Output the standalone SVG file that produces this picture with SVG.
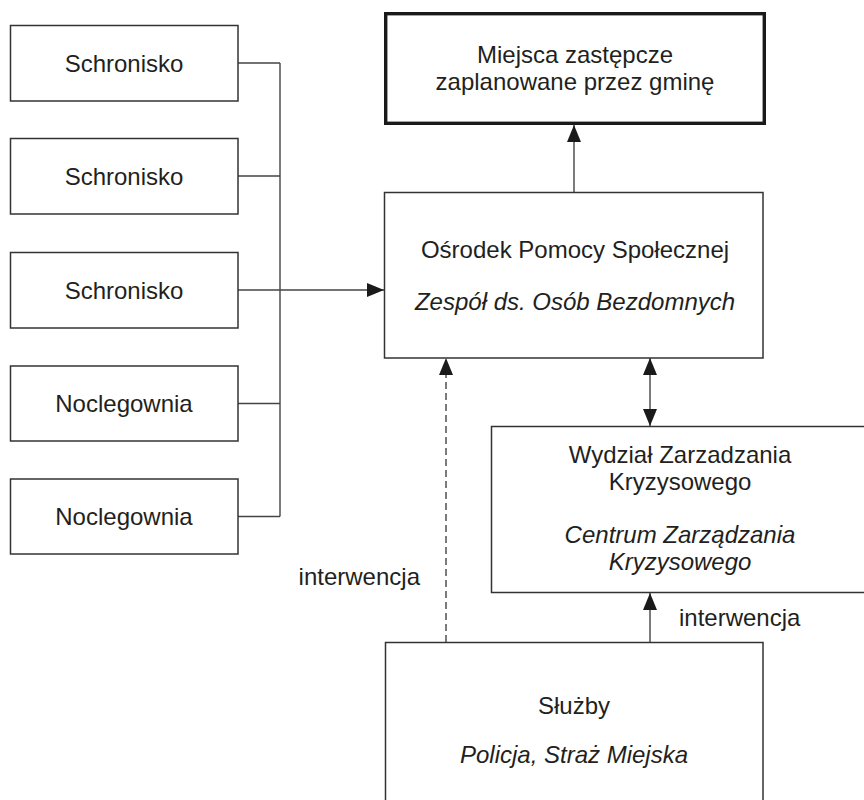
<svg xmlns="http://www.w3.org/2000/svg" width="864" height="800" viewBox="0 0 864 800">
<style>
.box{fill:#fff;stroke:#333;stroke-width:1.5}
.thick{fill:#fff;stroke:#1a1a1a;stroke-width:3.4}
text{font-family:"Liberation Sans",Arial,sans-serif;font-size:24px;fill:#231f20;text-anchor:middle}
.it{font-style:italic}
.ln{fill:none;stroke:#444;stroke-width:1.4}
.dash{stroke-dasharray:7 4}
</style>
<defs>
<marker id="ah" viewBox="0 0 17 14" refX="17" refY="7" markerWidth="17" markerHeight="14" markerUnits="userSpaceOnUse" orient="auto-start-reverse">
<path d="M0,0 L17,7 L0,14 Z" fill="#1a1a1a"/>
</marker>
</defs>
<rect width="864" height="800" fill="#fff"/>
<g id="connectors">
<path class="ln" d="M238,63 H280 M238,176 H280 M238,403.5 H280 M238,516.5 H280 M280,63 V516.5"/>
<path class="ln" d="M238,290 H384" marker-end="url(#ah)"/>
<path class="ln" d="M574,192 V125" marker-end="url(#ah)"/>
<path class="ln" d="M650,358 V426" marker-start="url(#ah)" marker-end="url(#ah)"/>
<path class="ln" d="M650,642 V593" marker-end="url(#ah)"/>
<path class="ln dash" d="M446,642 V358" marker-end="url(#ah)"/>
<text x="420" y="585" style="text-anchor:end">interwencja</text>
<text x="679" y="626" style="text-anchor:start">interwencja</text>
</g>
<g id="n1"><rect class="box" x="10.5" y="25.5" width="227.5" height="75.5"/><text x="124" y="71.5">Schronisko</text></g>
<g id="n2"><rect class="box" x="10.5" y="138.5" width="227.5" height="75.5"/><text x="124" y="184.5">Schronisko</text></g>
<g id="n3"><rect class="box" x="10.5" y="252.5" width="227.5" height="75.5"/><text x="124" y="298.5">Schronisko</text></g>
<g id="n4"><rect class="box" x="10.5" y="366" width="227.5" height="75"/><text x="124" y="412">Noclegownia</text></g>
<g id="n5"><rect class="box" x="10.5" y="479" width="227.5" height="75"/><text x="124" y="525">Noclegownia</text></g>
<g id="miejsca"><rect class="thick" x="385.7" y="13.7" width="378.6" height="109.6"/><text x="575" y="63">Miejsca zastępcze</text><text x="575" y="90">zaplanowane przez gminę</text></g>
<g id="ops"><rect class="box" x="384.5" y="192.5" width="378.5" height="165.5"/><text x="575" y="258">Ośrodek Pomocy Społecznej</text><text class="it" x="575" y="310">Zespół ds. Osób Bezdomnych</text></g>
<g id="wzk"><rect class="box" x="491.5" y="426.5" width="400" height="166"/><text x="680" y="463">Wydział Zarzadzania</text><text x="680" y="490">Kryzysowego</text><text class="it" x="680" y="543">Centrum Zarządzania</text><text class="it" x="680" y="570">Kryzysowego</text></g>
<g id="sluzby"><rect class="box" x="385.5" y="642.5" width="377.5" height="180"/><text x="574" y="714">Służby</text><text class="it" x="574" y="763">Policja, Straż Miejska</text></g>
</svg>
